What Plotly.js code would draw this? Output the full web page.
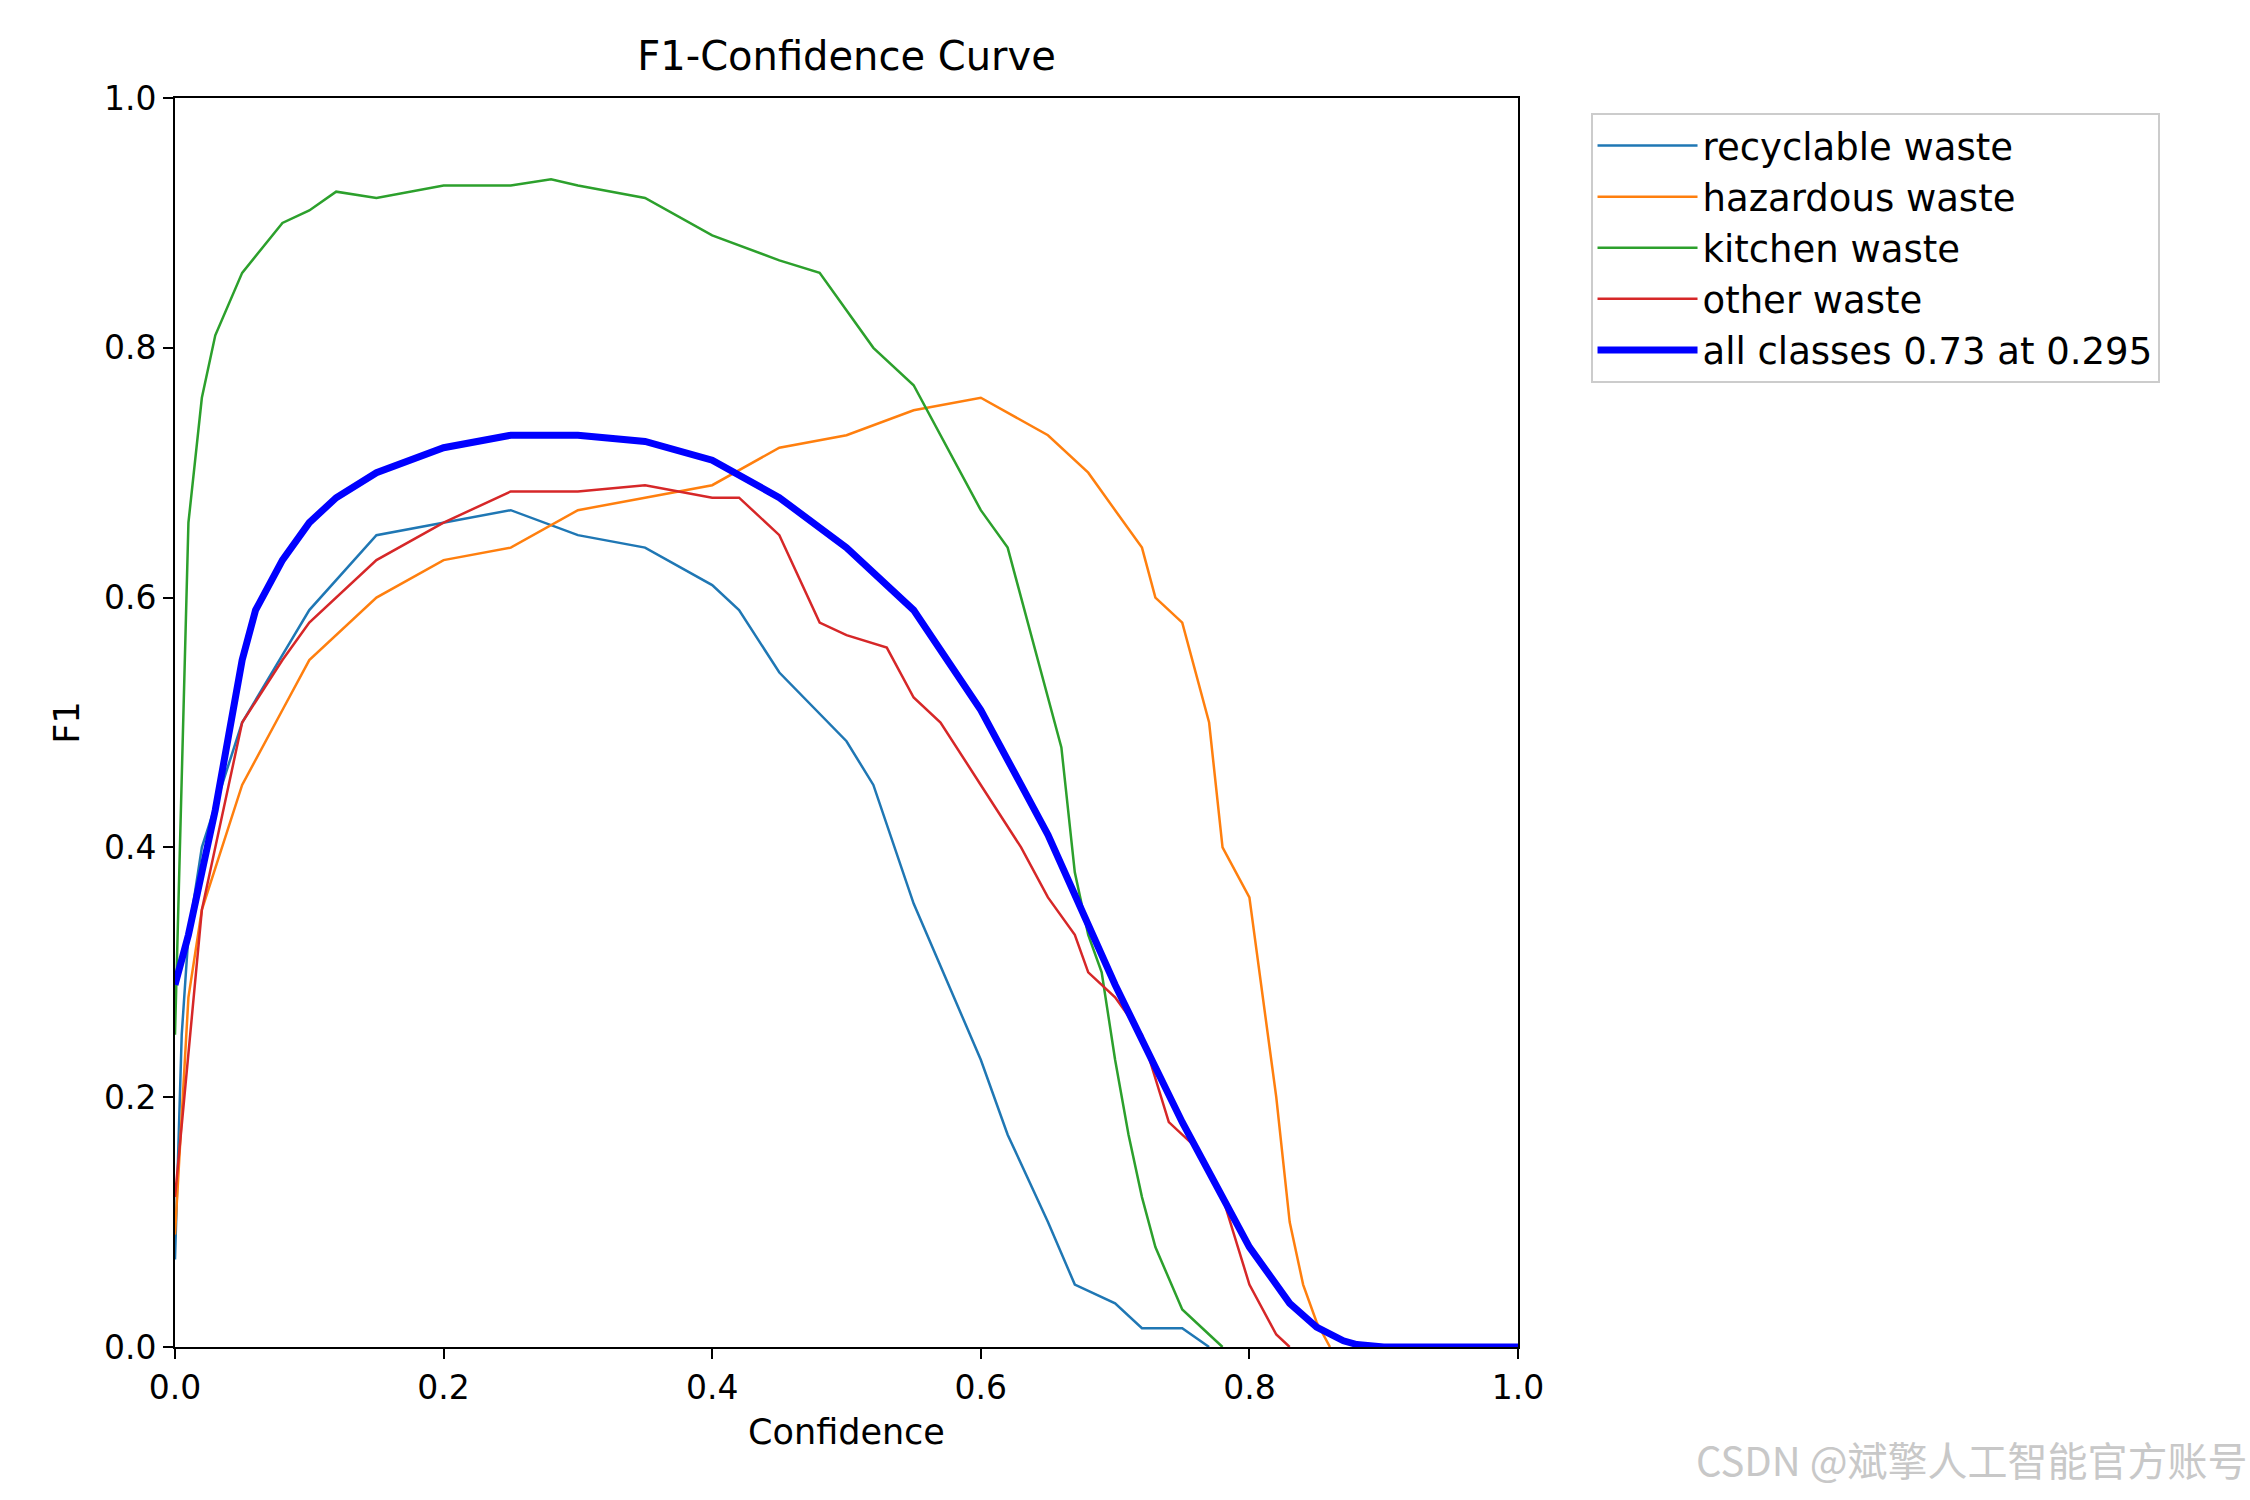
<!DOCTYPE html>
<html>
<head>
<meta charset="utf-8">
<script src="https://cdn.plot.ly/plotly-3.0.1.min.js"></script>
<style>body{margin:0;background:#fff}#chart{width:2250px;height:1500px}</style>
</head>
<body>
<div id="chart"></div>
<script>
// F1-Confidence curve, values

const recycX = [0, 0.005, 0.01, 0.02, 0.05, 0.1, 0.15, 0.2, 0.25, 0.3, 0.35, 0.4, 0.42, 0.45, 0.5, 0.52, 0.55, 0.6, 0.62, 0.65, 0.67, 0.7, 0.72, 0.75, 0.77];
const recycY = [0.07, 0.25, 0.33, 0.4, 0.5, 0.59, 0.65, 0.66, 0.67, 0.65, 0.64, 0.61, 0.59, 0.54, 0.485, 0.45, 0.355, 0.23, 0.17, 0.1, 0.05, 0.035, 0.015, 0.015, 0.0];

const hazX = [0, 0.01, 0.02, 0.05, 0.08, 0.1, 0.15, 0.2, 0.25, 0.3, 0.35, 0.4, 0.45, 0.5, 0.55, 0.6, 0.65, 0.68, 0.7, 0.72, 0.73, 0.75, 0.77, 0.78, 0.8, 0.81, 0.82, 0.83, 0.84, 0.85, 0.86];
const hazY = [0.09, 0.28, 0.35, 0.45, 0.51, 0.55, 0.6, 0.63, 0.64, 0.67, 0.68, 0.69, 0.72, 0.73, 0.75, 0.76, 0.73, 0.7, 0.67, 0.64, 0.6, 0.58, 0.5, 0.4, 0.36, 0.28, 0.2, 0.1, 0.05, 0.02, 0.0];

const kitX = [0, 0.005, 0.01, 0.02, 0.03, 0.05, 0.08, 0.1, 0.12, 0.15, 0.2, 0.25, 0.28, 0.3, 0.35, 0.4, 0.45, 0.48, 0.5, 0.52, 0.55, 0.57, 0.6, 0.62, 0.63, 0.65, 0.66, 0.67, 0.68, 0.69, 0.7, 0.71, 0.72, 0.73, 0.75, 0.77, 0.78];
const kitY = [0.25, 0.45, 0.66, 0.76, 0.81, 0.86, 0.9, 0.91, 0.925, 0.92, 0.93, 0.93, 0.935, 0.93, 0.92, 0.89, 0.87, 0.86, 0.83, 0.8, 0.77, 0.73, 0.67, 0.64, 0.6, 0.52, 0.48, 0.38, 0.33, 0.3, 0.23, 0.17, 0.12, 0.08, 0.03, 0.01, 0.0];

const otherX = [0, 0.02, 0.05, 0.08, 0.1, 0.15, 0.2, 0.25, 0.3, 0.35, 0.4, 0.42, 0.45, 0.48, 0.5, 0.53, 0.55, 0.57, 0.6, 0.63, 0.65, 0.67, 0.68, 0.7, 0.72, 0.74, 0.76, 0.78, 0.8, 0.82, 0.83];
const otherY = [0.12, 0.35, 0.5, 0.55, 0.58, 0.63, 0.66, 0.685, 0.685, 0.69, 0.68, 0.68, 0.65, 0.58, 0.57, 0.56, 0.52, 0.5, 0.45, 0.4, 0.36, 0.33, 0.3, 0.28, 0.25, 0.18, 0.16, 0.12, 0.05, 0.01, 0.0];

const allX = [0, 0.01, 0.02, 0.03, 0.04, 0.05, 0.06, 0.08, 0.1, 0.12, 0.15, 0.2, 0.25, 0.3, 0.35, 0.4, 0.45, 0.5, 0.55, 0.6, 0.65, 0.7, 0.75, 0.8, 0.83, 0.85, 0.87, 0.88, 0.9, 1.0];
const allY = [0.29, 0.33, 0.38, 0.43, 0.49, 0.55, 0.59, 0.63, 0.66, 0.68, 0.7, 0.72, 0.73, 0.73, 0.725, 0.71, 0.68, 0.64, 0.59, 0.51, 0.41, 0.29, 0.18, 0.08, 0.035, 0.016, 0.005, 0.002, 0, 0];

const tickVals = [0, 0.2, 0.4, 0.6, 0.8, 1.0];
const tickText = ['0.0', '0.2', '0.4', '0.6', '0.8', '1.0'];

const FONT = 'DejaVu Sans';
const thin = (x, y, name, color) => ({ type: 'scatter', mode: 'lines', x: x, y: y, name: name, line: { color: color, width: 2.5 } });

const traces = [
  thin(recycX, recycY, 'recyclable waste', '#1f77b4'),
  thin(hazX, hazY, 'hazardous waste', '#ff7f0e'),
  thin(kitX, kitY, 'kitchen waste', '#2ca02c'),
  thin(otherX, otherY, 'other waste', '#d62728'),
  { type: 'scatter', mode: 'lines', x: allX, y: allY, name: 'all classes 0.73 at 0.295', line: { color: '#0000ff', width: 7 } }
];

const axis = (title) => ({
  title: { text: title, font: { family: FONT, size: 35, color: '#000' }, standoff: 14 },
  range: [0, 1], tickvals: tickVals, ticktext: tickText,
  tickfont: { family: FONT, size: 33, color: '#000' },
  ticks: 'outside', ticklen: 10, tickwidth: 2, tickcolor: '#000',
  showline: true, linecolor: '#000', linewidth: 2, mirror: true,
  showgrid: false, zeroline: false
});

const layout = {
  width: 2250, height: 1500,
  margin: { l: 175, r: 732, t: 98, b: 153 },
  paper_bgcolor: '#fff', plot_bgcolor: '#fff',
  title: { text: 'F1-Confidence Curve', font: { family: FONT, size: 40, color: '#000' }, xref: 'paper', x: 0.5, xanchor: 'center', y: 0.972 },
  xaxis: axis('Confidence'),
  yaxis: axis('F1'),
  legend: {
    x: 1.054, y: 0.988, xanchor: 'left', yanchor: 'top',
    font: { family: FONT, size: 37, color: '#000' },
    bordercolor: '#ccc', borderwidth: 2, bgcolor: '#fff', itemwidth: 100,
    tracegroupgap: 0
  },
  annotations: [{
    text: 'CSDN @斌擎人工智能官方账号', xref: 'paper', yref: 'paper',
    x: 1.545, y: -0.09, xanchor: 'right', yanchor: 'middle', showarrow: false,
    font: { family: 'Noto Sans CJK SC', size: 40, color: '#c8c8c8' }
  }]
};

Plotly.newPlot('chart', traces, layout, { displayModeBar: false });
</script>
</body>
</html>
